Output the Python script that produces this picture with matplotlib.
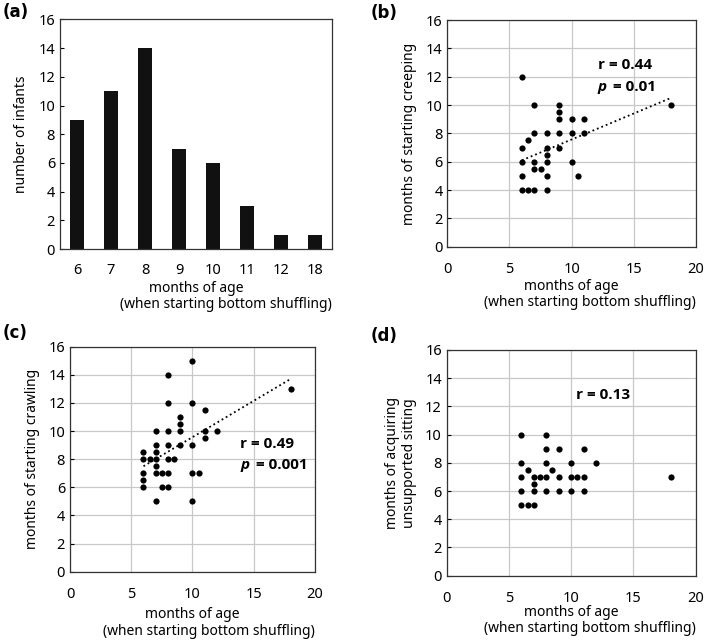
import matplotlib
matplotlib.use("Agg")
import matplotlib.pyplot as plt

plt.rcParams.update({
    "font.family": ["Noto Sans", "DejaVu Sans"],
    "font.size": 10,
    "xtick.labelsize": 10.5, "ytick.labelsize": 10.5,
    "axes.linewidth": 0.9, "axes.edgecolor": "#333333",
    "xtick.direction": "in", "ytick.direction": "in",
    "xtick.major.size": 0, "ytick.major.size": 3,
})

# (a) histogram of onset of bottom shuffling
age_cats = ["6", "7", "8", "9", "10", "11", "12", "18"]
n_infants = [9, 11, 14, 7, 6, 3, 1, 1]

# (b) creeping
creep_x = [6, 7, 9, 9, 9, 10, 11, 7, 8, 9, 10, 11, 6.5, 6, 8, 9, 8, 6, 7, 8, 10,
           7, 7.5, 6, 8, 10.5, 6, 6.5, 7, 8, 18]
creep_y = [12, 10, 10, 9.5, 9, 9, 9, 8, 8, 8, 8, 8, 7.5, 7, 7, 7, 6.5, 6, 6, 6, 6,
           5.5, 5.5, 5, 5, 5, 4, 4, 4, 4, 10]
creep_fit_x = [6, 18]
creep_fit_y = [6.1, 10.5]

# (c) crawling
crawl_x = [10, 8, 8, 10, 11, 9, 9, 7, 8, 9, 11, 12, 11, 7, 8, 9, 10, 6, 7, 6, 6.5,
           7, 8, 8.5, 7, 6, 7, 7.5, 8, 10, 10.5, 6, 6, 7.5, 8, 7, 10, 18]
crawl_y = [15, 14, 12, 12, 11.5, 11, 10.5, 10, 10, 10, 10, 10, 9.5, 9, 9, 9, 9, 8.5,
           8.5, 8, 8, 8, 8, 8, 7.5, 7, 7, 7, 7, 7, 7, 6.5, 6, 6, 6, 5, 5, 13]
crawl_fit_x = [6, 18]
crawl_fit_y = [7.5, 13.7]

# (d) unsupported sitting
sit_x = [6, 8, 8, 9, 11, 6, 8, 10, 12, 6.5, 8.5, 6, 7, 7.5, 8, 9, 10, 10.5, 11, 7,
         6, 7, 8, 9, 10, 11, 6, 6.5, 7, 18]
sit_y = [10, 10, 9, 9, 9, 8, 8, 8, 8, 7.5, 7.5, 7, 7, 7, 7, 7, 7, 7, 7, 6.5,
         6, 6, 6, 6, 6, 6, 5, 5, 5, 7]

XLAB1 = "months of age"
XLAB2 = "(when starting bottom shuffling)"
GRID = "#c8c8c8"

fig = plt.figure(figsize=(7.09, 6.42), dpi=100)

ax_a = fig.add_axes([0.0846, 0.612, 0.3836, 0.3578])
ax_b = fig.add_axes([0.631, 0.6157, 0.3503, 0.3531])
ax_c = fig.add_axes([0.0987, 0.1095, 0.3456, 0.3505])
ax_d = fig.add_axes([0.630, 0.1033, 0.3512, 0.3516])

# (a) bars
pos = range(len(age_cats))
ax_a.bar(pos, n_infants, width=0.42, color="#111111")
ax_a.set_xticks(list(pos))
ax_a.set_xticklabels(age_cats)
ax_a.set_xlim(-0.5, len(age_cats) - 0.5)
ax_a.set_ylim(0, 16)
ax_a.set_yticks(range(0, 17, 2))
ax_a.set_ylabel("number of infants", labelpad=7)
ax_a.tick_params(axis="x", pad=10)


def scatter_panel(ax, x, y, ylabel, fit_x=None, fit_y=None):
    ax.set_axisbelow(True)
    ax.grid(True, color=GRID, linewidth=0.9)
    ax.scatter(x, y, s=20, color="black", zorder=3, linewidths=0)
    if fit_x is not None:
        ax.plot(fit_x, fit_y, color="black", linestyle=":", linewidth=1.3, zorder=2)
    ax.set_xlim(0, 20)
    ax.set_ylim(0, 16)
    ax.set_xticks([0, 5, 10, 15, 20])
    ax.set_yticks(range(0, 17, 2))
    ax.tick_params(axis="x", pad=11)
    ax.set_ylabel(ylabel, labelpad=6)


scatter_panel(ax_b, creep_x, creep_y, "months of starting creeping", creep_fit_x, creep_fit_y)
scatter_panel(ax_c, crawl_x, crawl_y, "months of starting crawling", crawl_fit_x, crawl_fit_y)
scatter_panel(ax_d, sit_x, sit_y, "months of acquiring\nunsupported sitting")

xlab_pos = {ax_a: (-0.172, -0.24), ax_b: (-0.175, -0.247),
            ax_c: (-0.189, -0.267), ax_d: (-0.165, -0.235)}
for ax, (y1, y2) in xlab_pos.items():
    ax.text(0.5, y1, XLAB1, transform=ax.transAxes, ha="center", va="center")
    ax.text(1.0, y2, XLAB2, transform=ax.transAxes, ha="right", va="center")

stat_kw = dict(fontsize=11, fontweight="bold", family=["Open Sans", "DejaVu Sans"],
               va="center", ha="left")


def stat_text(ax, x, y, r_txt, p_txt=None, dy=1.5):
    ax.text(x, y, r_txt, **stat_kw)
    if p_txt is not None:
        ax.text(x, y - dy, "p", fontstyle="italic", **stat_kw)
        ax.annotate(p_txt, (x, y - dy), xytext=(11, 0), textcoords="offset points",
                    **stat_kw)


stat_text(ax_b, 12.1, 12.8, "r = 0.44", "= 0.01")
stat_text(ax_c, 13.9, 9.1, "r = 0.49", "= 0.001")
stat_text(ax_d, 10.4, 12.8, "r = 0.13")

lab_kw = dict(fontsize=12, fontweight="bold", family=["DejaVu Sans"],
              va="center", ha="left")
fig.text(0.003, 1 - 12 / 642, "(a)", **lab_kw)
fig.text(0.523, 1 - 13 / 642, "(b)", **lab_kw)
fig.text(0.003, 1 - 333 / 642, "(c)", **lab_kw)
fig.text(0.523, 1 - 336 / 642, "(d)", **lab_kw)

fig.savefig("out.png", dpi=100, facecolor="white")
